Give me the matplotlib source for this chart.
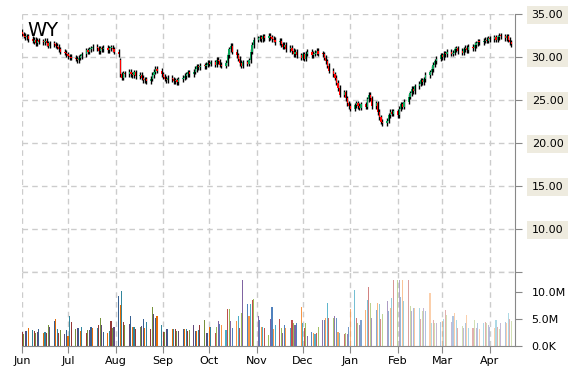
import numpy as np
import pandas as pd
import matplotlib
matplotlib.use("Agg")
import matplotlib.pyplot as plt
import matplotlib.dates as mdates
from matplotlib.ticker import FuncFormatter

symbol = "WY"
start_date = "2015-06-01"

# daily closes / opens, one row of 10 trading days per line
closes = [
    32.7, 32.5, 32.3, 32.4, 32.1, 31.9, 32.0, 31.6, 31.9, 31.8,
    31.7, 31.9, 31.6, 31.3, 31.6, 31.5, 31.3, 31.2, 30.9, 30.6,
    30.5, 30.3, 30.1, 30.0, 29.9, 29.8, 29.6, 29.9, 30.1, 30.3,
    30.8, 30.6, 30.9, 31.0, 31.2, 31.0, 30.7, 31.0, 30.9, 31.1,
    30.8, 31.0, 31.1, 30.9, 30.6, 30.3, 28.0, 27.6, 28.1, 28.0,
    28.3, 28.0, 27.9, 28.2, 27.8, 27.9, 27.6, 27.3, 27.4, 27.2,
    27.5, 27.9, 28.3, 28.6, 28.4, 28.0, 27.7, 27.5, 27.3, 27.6,
    27.4, 27.2, 27.3, 27.1, 27.4, 27.6, 27.8, 28.0, 28.2, 28.0,
    28.3, 28.6, 28.9, 28.8, 29.0, 28.9, 29.1, 29.3, 29.2, 29.4,
    29.1, 29.7, 29.5, 29.1, 29.0, 29.3, 30.2, 30.9, 31.3, 30.6,
    30.2, 29.8, 29.3, 29.0, 29.4, 29.2, 29.6, 30.6, 31.4, 32.0,
    32.2, 32.3, 32.1, 32.4, 32.2, 32.5, 32.3, 32.1, 32.0, 31.7,
    31.9, 31.5, 31.2, 31.4, 30.9, 31.1, 30.7, 30.3, 30.6, 30.2,
    29.9, 30.3, 29.8, 30.4, 30.6, 30.2, 30.4, 30.5, 30.7, 30.4,
    30.3, 29.9, 29.5, 29.0, 28.4, 28.0, 27.6, 27.0, 26.4, 25.6,
    25.9, 25.2, 24.6, 24.3, 24.0, 24.4, 24.6, 24.3, 24.1, 24.5,
    24.2, 25.1, 25.6, 25.2, 24.3, 24.6, 23.6, 23.0, 22.5, 22.3,
    22.6, 23.2, 23.6, 23.4, 23.7, 23.2, 24.0, 24.5, 24.2, 24.8,
    25.4, 25.8, 26.3, 26.0, 26.6, 26.9, 27.3, 27.1, 27.4, 27.9,
    28.2, 28.6, 29.1, 29.5, 29.8, 30.2, 30.0, 30.4, 30.3, 30.6,
    30.4, 30.5, 30.9, 31.0, 30.7, 30.5, 30.9, 31.1, 30.8, 31.2,
    31.0, 31.4, 31.6, 31.8, 31.7, 31.9, 32.0, 31.9, 32.2, 32.1,
    32.3, 32.0, 32.3, 32.5, 32.4, 32.2, 32.4, 32.0, 31.7, 31.5,
]
opens = [
    32.9, 32.6, 32.5, 32.3, 32.4, 32.1, 31.8, 32.0, 31.6, 31.9,
    31.8, 31.7, 31.9, 31.6, 31.3, 31.6, 31.5, 31.3, 31.2, 30.9,
    30.6, 30.5, 30.3, 30.1, 30.0, 29.9, 29.8, 29.6, 29.9, 30.1,
    30.3, 30.8, 30.6, 30.9, 31.0, 31.2, 31.0, 30.7, 31.0, 30.9,
    31.1, 30.8, 31.0, 31.1, 30.9, 30.6, 29.6, 28.0, 27.6, 28.1,
    28.0, 28.3, 28.0, 27.9, 28.2, 27.8, 27.9, 27.6, 27.3, 27.4,
    27.2, 27.5, 27.9, 28.3, 28.6, 28.4, 28.0, 27.7, 27.5, 27.3,
    27.6, 27.4, 27.2, 27.3, 27.1, 27.4, 27.6, 27.8, 28.0, 28.2,
    28.0, 28.3, 28.6, 28.9, 28.8, 29.0, 28.9, 29.1, 29.3, 29.2,
    29.4, 29.1, 29.7, 29.5, 29.1, 29.0, 29.3, 30.2, 30.9, 31.3,
    30.6, 30.2, 29.8, 29.3, 29.0, 29.4, 29.2, 29.6, 30.6, 31.4,
    32.0, 32.2, 32.3, 32.1, 32.4, 32.2, 32.5, 32.3, 32.1, 32.0,
    31.7, 31.9, 31.5, 31.2, 31.4, 30.9, 31.1, 30.7, 30.3, 30.6,
    30.2, 29.9, 30.3, 29.8, 30.4, 30.6, 30.2, 30.4, 30.5, 30.7,
    30.4, 30.3, 29.9, 29.5, 29.0, 28.4, 28.0, 27.6, 27.0, 26.4,
    25.6, 25.9, 25.2, 24.6, 24.3, 24.0, 24.4, 24.6, 24.3, 24.1,
    24.5, 24.2, 25.1, 25.6, 25.2, 24.3, 24.6, 23.6, 23.0, 22.5,
    22.3, 22.6, 23.2, 23.6, 23.4, 23.7, 23.2, 24.0, 24.5, 24.2,
    24.8, 25.4, 25.8, 26.3, 26.0, 26.6, 26.9, 27.3, 27.1, 27.4,
    27.9, 28.2, 28.6, 29.1, 29.5, 29.8, 30.2, 30.0, 30.4, 30.3,
    30.6, 30.4, 30.5, 30.9, 31.0, 30.7, 30.5, 30.9, 31.1, 30.8,
    31.2, 31.0, 31.4, 31.6, 31.8, 31.7, 31.9, 32.0, 31.9, 32.2,
    32.1, 32.3, 32.0, 32.3, 32.5, 32.4, 32.2, 32.4, 32.0, 31.7,
]

# daily volume in millions, per month
vol_jun = [2.7, 2.2, 2.8, 2.8, 3.3, 3.0, 2.8, 2.4, 2.7, 3.2, 2.4, 2.6, 2.4, 4.0, 3.6,
           4.6, 5.0, 3.1, 2.4, 3.0, 2.2, 3.0]
vol_jul = [1.9, 5.5, 4.4, 3.2, 3.4, 3.4, 2.8, 3.6, 2.4, 3.0, 3.0, 3.6, 3.4, 3.4, 4.0,
           5.2, 3.9, 2.7, 2.4, 2.8, 4.6, 3.3, 3.5]
vol_aug = [9.4, 7.7, 10.2, 4.5, 3.9, 4.1, 5.5, 3.5, 3.5, 3.1, 3.5, 3.8, 5.0, 3.3, 4.5,
           3.1, 7.2, 6.0, 5.2, 5.5, 4.0]
vol_sep = [2.7, 2.7, 3.1, 3.2, 3.1, 3.1, 3.2, 2.8, 2.8, 3.2, 3.1, 3.2, 2.8, 2.9, 3.9,
           2.8, 2.8, 3.0, 3.9, 4.8, 2.4, 2.4]
vol_oct = [3.6, 3.6, 2.4, 3.5, 4.6, 4.1, 4.0, 3.0, 6.9, 6.9, 4.6, 3.4, 4.6, 5.6, 3.4,
           6.1, 12.3, 7.9, 5.6, 7.9, 8.5, 8.8]
vol_nov = [5.5, 4.8, 3.6, 3.6, 3.3, 2.1, 5.0, 7.2, 3.1, 4.0, 5.0, 3.3, 2.4, 4.0, 3.3,
           3.3, 4.8, 4.2, 4.0, 4.2, 7.2]
vol_dec = [4.2, 3.3, 4.2, 1.8, 2.7, 2.5, 2.3, 2.5, 3.6, 4.8, 4.8, 5.2, 8.1, 5.3, 5.3,
           5.6, 5.2, 2.6, 2.4, 2.2, 2.5, 2.3, 3.6]
vol_jan = [6.8, 10.5, 5.3, 4.2, 3.9, 4.8, 6.7, 8.5, 10.9, 8.1, 5.3, 6.7, 8.1, 7.9, 5.0,
           5.9, 8.4, 6.5, 7.1, 8.9, 12.3]
vol_feb = [12.3, 12.3, 9.2, 12.3, 8.4, 12.3, 7.5, 6.5, 7.1, 7.1, 7.1, 5.0, 6.5, 7.1, 6.5,
           9.8, 4.2, 4.9, 4.2, 4.2, 4.4]
vol_mar = [4.7, 5.1, 6.7, 5.7, 4.5, 5.5, 6.1, 4.8, 3.4, 3.8, 3.4, 4.2, 5.7, 3.3, 3.4,
           4.8, 3.4, 4.2, 3.1, 4.2, 4.5, 4.2, 3.9]
vol_apr = [3.6, 3.3, 4.8, 3.6, 3.1, 4.2, 4.5, 4.2, 6.2, 5.0, 4.6]

volumes_m = (vol_jun + vol_jul + vol_aug + vol_sep + vol_oct + vol_nov + vol_dec
             + vol_jan + vol_feb + vol_mar + vol_apr)

price_ticks = [5, 10, 15, 20, 25, 30, 35]
volume_ticks = [0, 5e6, 10e6]


def vol_fmt(v, pos):
    if v < 1e6:
        return f"{v / 1e3:.1f}K"
    return f"{v / 1e6:.1f}M"


def price_fmt(v, pos):
    if v < 10:
        return ""
    return f"{v:.2f}"


def main():
    dates = pd.bdate_range(start_date, periods=len(closes))
    x = mdates.date2num(dates)
    o = np.array(opens)
    c = np.array(closes)
    vol = np.array(volumes_m) * 1e6

    W, H = 570, 370
    fig = plt.figure(figsize=(W / 100, H / 100), dpi=100)
    axv = fig.add_axes([22 / W, 1 - 346 / H, (515 - 22) / W, (346 - 272) / H])
    ax = fig.add_axes([22 / W, 1 - 272 / H, (515 - 22) / W, (272 - 14) / H], sharex=axv)
    ax.patch.set_visible(False)
    axv.patch.set_visible(False)

    grid_kw = dict(color="#cccccc", linestyle=(0, (4, 3)), linewidth=1)
    spine_col = "#888888"

    # candles
    up = c >= o
    lo = np.minimum(o, c)
    hi = np.maximum(o, c)
    ax.vlines(x, lo - 0.3, hi + 0.3, color="black", linewidth=1, zorder=3)
    body = np.maximum(hi - lo, 0.12)
    ax.bar(x, body, bottom=lo, width=0.8, color=np.where(up, "#0aa55a", "#ff0000"),
           linewidth=0, zorder=4)

    ax.set_ylim(5, 35)
    ax.set_yticks(price_ticks)
    ax.yaxis.set_major_formatter(FuncFormatter(price_fmt))
    ax.yaxis.tick_right()
    ax.tick_params(axis="y", direction="out", length=5, color=spine_col, labelsize=8, pad=7)
    for lbl in ax.get_yticklabels():
        lbl.set_bbox(dict(facecolor="#eeebdf", edgecolor="none", pad=3))
    ax.tick_params(axis="x", length=0, labelbottom=False)
    for s in ["top", "left", "bottom"]:
        ax.spines[s].set_visible(False)
    ax.spines["right"].set_color(spine_col)
    ax.grid(True, **grid_kw)
    ax.axhline(5, clip_on=False, zorder=0, **grid_kw)
    ax.set_axisbelow(True)

    # volume bars
    dark = ["#953735", "#76923c", "#5f497a", "#366092", "#e36c09", "#31859c"]
    light = ["#c0504d", "#9bbb59", "#8064a2", "#4f81bd", "#f79646", "#4bacc6"]
    n = len(vol)
    for i in range(n):
        if i < 90:
            col, a = dark[i % 6], 1.0
        else:
            col = light[i % 6]
            a = float(np.clip(1.0 - (i - 130) / 60 * 0.55, 0.45, 1.0))
        axv.bar(x[i], vol[i], width=0.7, color=col, alpha=a, linewidth=0, zorder=3)

    axv.set_ylim(0, 13.78e6)
    axv.set_yticks(volume_ticks)
    axv.yaxis.set_major_formatter(FuncFormatter(vol_fmt))
    axv.yaxis.tick_right()
    axv.tick_params(axis="y", direction="out", length=5, color=spine_col, labelsize=8, pad=7)
    for s in ["top", "left"]:
        axv.spines[s].set_visible(False)
    axv.spines["right"].set_color(spine_col)
    axv.spines["bottom"].set_color(spine_col)
    axv.grid(True, axis="x", **grid_kw)
    axv.set_axisbelow(True)

    axv.xaxis.set_major_locator(mdates.MonthLocator())
    axv.xaxis.set_major_formatter(mdates.DateFormatter("%b"))
    axv.tick_params(axis="x", direction="out", length=5, color=spine_col, labelsize=8, pad=2)
    axv.set_xlim(mdates.date2num(pd.Timestamp("2015-06-01")),
                 mdates.date2num(pd.Timestamp("2016-04-17")) + 0.4)

    fig.text(27 / W, 1 - 21 / H, symbol, fontsize=14, va="top", ha="left", color="black")

    fig.savefig("out.png", dpi=100)
    plt.close(fig)


if __name__ == "__main__":
    main()
